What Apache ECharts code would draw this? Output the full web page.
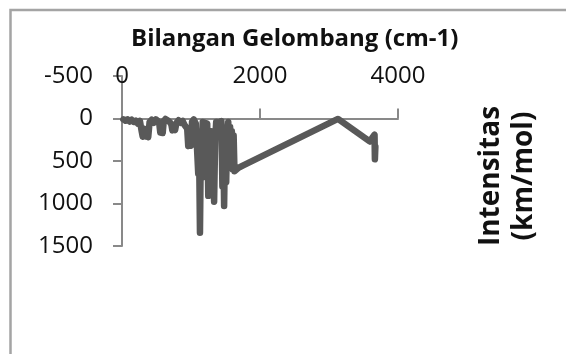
<!DOCTYPE html>
<html>
<head>
<meta charset="utf-8">
<script src="https://cdn.jsdelivr.net/npm/echarts@6/dist/echarts.min.js"></script>
<style>
  html, body { margin: 0; padding: 0; background: #fff; }
  #chart { width: 566px; height: 354px; }
</style>
</head>
<body>
<div id="chart"></div>
<script>
// Computed vibrational spectrum: wavenumber (cm-1) and intensity (km/mol)
const wavenumbers = [
  20, 50, 80, 110, 140, 170, 200, 230, 260,
  285, 300, 320, 340, 360, 380, 400,
  430, 460, 490, 520,
  540, 555, 575, 590, 605,
  630, 660, 690,
  715, 730, 750, 770, 790,
  820, 850, 880, 910,
  945, 960, 980, 1000, 1015,
  1040, 1070,
  1090, 1105, 1115, 1130, 1145, 1158, 1170,
  1200,
  1235, 1250, 1262, 1275, 1290, 1305, 1320, 1335, 1350, 1365,
  1400,
  1440, 1455, 1468, 1480, 1495, 1510, 1525, 1540,
  1555, 1567, 1580, 1592, 1605, 1618, 1630,
  1680, 1750,
  3130,
  3590, 3660, 3665, 3672
];
const intensities = [
  10, 25, 10, 35, 15, 40, 25, 60, 30,
  150, 215, 120, 210, 140, 220, 40,
  15, 50, 10, 30,
  60, 165, 150, 170, 30,
  5, 20, 40,
  70, 140, 110, 135, 50,
  20, 50, 30, 80,
  120, 325, 280, 320, 40,
  10, 60,
  40, 650, 200, 1345, 150, 700, 40,
  50,
  60, 910, 300, 850, 150, 700, 400, 980, 250, 40,
  50,
  30, 800, 300, 1030, 200, 750, 150, 40,
  500, 100, 560, 150, 600, 200, 620,
  585, 555,
  5,
  270, 190, 480, 330
];

const xTicks = { min: 0, max: 4000, interval: 2000 };
const yTicks = { min: -500, max: 1500, interval: 500 };

const spectrum = wavenumbers.map((w, i) => [w, intensities[i]]);

const axisGray = '#898989';
const textFont = "'Open Sans', sans-serif";
const plain = v => String(v);

const chart = echarts.init(document.getElementById('chart'), null, { renderer: 'canvas' });

chart.setOption({
  animation: false,
  backgroundColor: '#ffffff',
  title: {
    text: 'Bilangan Gelombang (cm-1)',
    left: 126,
    top: 22,
    textStyle: {
      fontFamily: textFont,
      fontWeight: 'bold',
      fontSize: 24,
      color: '#111'
    }
  },
  grid: { left: 122, top: 76, width: 276, height: 170 },
  xAxis: [
    {
      type: 'value',
      position: 'top',
      min: xTicks.min, max: xTicks.max, interval: xTicks.interval,
      axisLine: { show: true, onZero: true, lineStyle: { color: axisGray, width: 2 } },
      axisTick: { show: true, length: 10, lineStyle: { color: axisGray, width: 2 } },
      axisLabel: { show: false },
      splitLine: { show: false }
    },
    {
      type: 'value',
      position: 'top',
      min: xTicks.min, max: xTicks.max, interval: xTicks.interval,
      axisLine: { show: false, onZero: false },
      axisTick: { show: false },
      axisLabel: {
        show: true,
        margin: -12,
        formatter: plain,
        fontFamily: textFont,
        fontSize: 24,
        color: '#111'
      },
      splitLine: { show: false }
    }
  ],
  yAxis: {
    type: 'value',
    inverse: true,
    min: yTicks.min, max: yTicks.max, interval: yTicks.interval,
    axisLine: { show: true, onZero: false, lineStyle: { color: axisGray, width: 2 } },
    axisTick: { show: true, length: 9, lineStyle: { color: axisGray, width: 2 } },
    axisLabel: {
      margin: 29,
      formatter: plain,
      fontFamily: textFont,
      fontSize: 24,
      color: '#111'
    },
    splitLine: { show: false }
  },
  graphic: [
    {
      type: 'rect',
      silent: true,
      shape: { x: 10.5, y: 10, width: 620, height: 420 },
      style: { fill: 'none', stroke: '#a4a4a4', lineWidth: 2.5 }
    },
    {
      type: 'text',
      silent: true,
      x: 508,
      y: 176,
      rotation: Math.PI / 2,
      style: {
        text: 'Intensitas\n(km/mol)',
        fontFamily: textFont,
        fontWeight: 'bold',
        fontSize: 28,
        lineHeight: 33,
        fill: '#111',
        align: 'center',
        verticalAlign: 'middle'
      }
    }
  ],
  series: [
    {
      type: 'line',
      xAxisIndex: 0,
      data: spectrum,
      showSymbol: false,
      symbol: 'none',
      clip: false,
      lineStyle: { color: '#595959', width: 6.5, cap: 'round', join: 'round' }
    }
  ]
});
</script>
</body>
</html>
